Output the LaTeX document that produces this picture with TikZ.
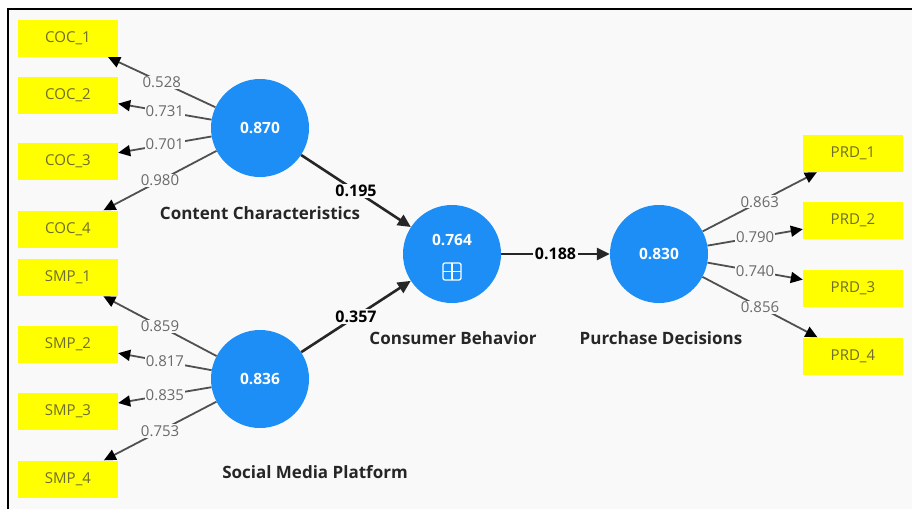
\documentclass[tikz,border=0pt]{standalone}
\usepackage{fontspec}
\setmainfont{Open Sans}
\usetikzlibrary{arrows.meta}

\definecolor{plsblue}{HTML}{1C8EF5}
\definecolor{plsyellow}{HTML}{FFFF00}
\definecolor{plsbg}{HTML}{F9F9F9}
\definecolor{loadgray}{HTML}{6A6A6A}
\definecolor{linegray}{HTML}{505050}
\definecolor{itemtext}{HTML}{6E6E2E}

\begin{document}
\begin{tikzpicture}[x=1pt,y=-1pt,
  latent/.style={circle,fill=plsblue,minimum size=98pt,inner sep=0pt,text=white,font=\bfseries\fontsize{15.5}{18}\selectfont},
  item/.style={rectangle,fill=plsyellow,minimum width=100pt,minimum height=37pt,inner sep=0pt,text=itemtext,font=\fontsize{15}{17}\selectfont},
  caption/.style={font=\bfseries\fontsize{17}{20}\selectfont,text=black!85},
  loading/.style={draw=linegray,line width=1.8pt,-{Triangle[length=12pt,width=11pt,color=black]}},
  lval/.style={midway,fill=plsbg,inner sep=1pt,text=loadgray,font=\fontsize{15}{17}\selectfont},
  structural/.style={draw=black!85,line width=2.6pt,-{Triangle[length=13pt,width=12pt]}},
  pval/.style={midway,fill=plsbg,inner sep=1.5pt,font=\bfseries\fontsize{16}{18}\selectfont}
]
\useasboundingbox (0,0) rectangle (912,509);

% Canvas and frame
\fill[white] (0,0) rectangle (912,509);
\fill[plsbg] (8,9) rectangle (912,509);
\draw[line width=2pt] (8,509) -- (8,9) -- (912,9);

% Latent variables
\node[latent] (cc) at (260,128) {0.870};
\node[latent] (smp) at (260,379) {0.836};
\node[latent] (cb) at (452,254) {};
\node[latent,minimum size=0pt] (cbval) at (452,240) {0.764};
\node[latent] (pd) at (659,254) {0.830};

% Expand icon
\draw[white,line width=1.3pt,rounded corners=2pt] (443,263) rectangle (461,280);
\draw[white,line width=1.3pt] (452,263) -- (452,280) (443,271.5) -- (461,271.5);

% Names
\node[caption] (cclab) at (260,213) {Content Characteristics};
\node[caption] (smplab) at (315,472) {Social Media Platform};
\node[caption] (cblab) at (453,338) {Consumer Behavior};
\node[caption] (pdlab) at (661,338) {Purchase Decisions};

% Indicators
\node[item] (coc1) at (68,38.5) {COC\_1};
\node[item] (coc2) at (68,95) {COC\_2};
\node[item] (coc3) at (68,161.5) {COC\_3};
\node[item] (coc4) at (68,229) {COC\_4};
\node[item] (smp1) at (68,277.5) {SMP\_1};
\node[item] (smp2) at (68,344) {SMP\_2};
\node[item] (smp3) at (68,411.5) {SMP\_3};
\node[item] (smp4) at (68,479) {SMP\_4};
\node[item] (prd1) at (853,153.5) {PRD\_1};
\node[item] (prd2) at (853,220.5) {PRD\_2};
\node[item] (prd3) at (853,288.5) {PRD\_3};
\node[item] (prd4) at (853,356) {PRD\_4};

% Outer loadings
\draw[loading] (cc) -- (coc1) node[lval] {0.528};
\draw[loading] (cc) -- (coc2) node[lval] {0.731};
\draw[loading] (cc) -- (coc3) node[lval] {0.701};
\draw[loading] (cc) -- (coc4) node[lval] {0.980};
\draw[loading] (smp) -- (smp1) node[lval] {0.859};
\draw[loading] (smp) -- (smp2) node[lval] {0.817};
\draw[loading] (smp) -- (smp3) node[lval] {0.835};
\draw[loading] (smp) -- (smp4) node[lval] {0.753};
\draw[loading] (pd) -- (prd1) node[lval] {0.863};
\draw[loading] (pd) -- (prd2) node[lval] {0.790};
\draw[loading] (pd) -- (prd3) node[lval] {0.740};
\draw[loading] (pd) -- (prd4) node[lval] {0.856};

% Path coefficients
\draw[structural] (cc) -- (cb) node[pval] {0.195};
\draw[structural] (smp) -- (cb) node[pval] {0.357};
\draw[structural] (cb) -- (pd) node[pval] {0.188};
\end{tikzpicture}
\end{document}
